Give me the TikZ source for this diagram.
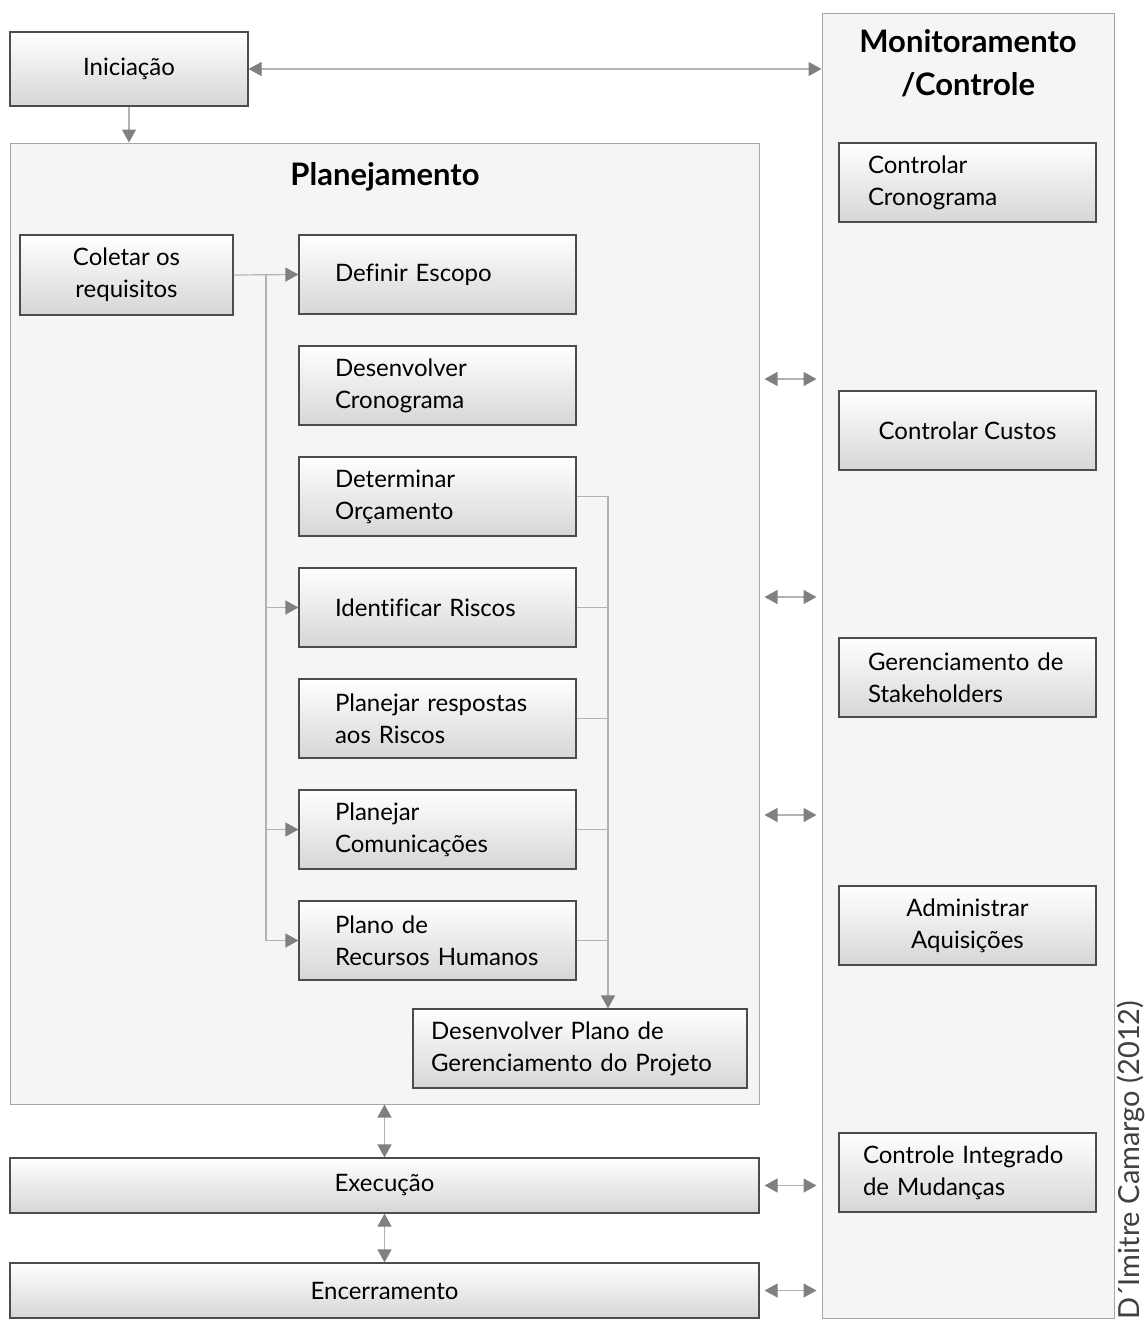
\documentclass[tikz,border=0pt]{standalone}
\usepackage{fontspec}
\setmainfont{Lato}[Ligatures=NoCommon]
\usetikzlibrary{positioning,arrows.meta,calc}

\begin{document}
\begin{tikzpicture}[x=1pt,y=-1pt,font=\fontsize{24}{32}\selectfont,
  box/.style={draw=cedge,line width=1.2pt,top color=white,bottom color=gray!32,
    minimum height=79,inner sep=0},
  stepbox/.style={box,minimum width=277,text width=205,inner xsep=36,align=left},
  ctrlbox/.style={box,minimum width=257,text width=199,inner xsep=29,align=left},
  ctrlmid/.style={box,minimum width=257,align=center},
  phase/.style={box,minimum width=749,minimum height=55},
  frame/.style={draw=cframe,line width=1pt,fill=gray!8,inner sep=0},
  title/.style={font=\fontsize{31}{43}\selectfont\bfseries,align=center},
  conn/.style={draw=cline,line width=1.2pt},
  tip/.style={-{Triangle[length=13pt,width=14pt,color=chead]}},
  both/.style={{Triangle[length=13pt,width=14pt,color=chead]}-{Triangle[length=13pt,width=14pt,color=chead]}}]
\colorlet{cedge}{black!70}\colorlet{cframe}{black!35}
\colorlet{cline}{black!30}\colorlet{chead}{black!50}
\useasboundingbox[fill=white] (0,0) rectangle (1145,1322);
% frames
\node[frame,minimum width=292,minimum height=1304] (mon) at (968,666) {};
\node[title] (montit) at (968,63) {Monitoramento\\/Controle};
\node[frame,minimum width=749,minimum height=961] (plan) at (384.5,623.5) {};
\node[title] (plantit) at (385,177) {Planejamento};
% phases
\node[box,minimum width=238,minimum height=74] (ini) at (129,69) {Iniciação};
\node[phase] (exe) at (384.5,1185.5) {Execução};
\node[phase] (enc) at (384.5,1290.5) {Encerramento};
% planning steps
\node[box,minimum width=213,minimum height=80,align=center] (col) at (126.5,275)
  {Coletar os\\requisitos};
\node[stepbox] (escopo) at (437.5,274.5) {Definir Escopo};
\node[stepbox] (crono) at (437.5,385.5) {Desenvolver\\Cronograma};
\node[stepbox] (orc) at (437.5,496.5) {Determinar\\Orçamento};
\node[stepbox] (riscos) at (437.5,607.5) {Identificar Riscos};
\node[stepbox] (resp) at (437.5,718.5) {Planejar respostas\\aos Riscos};
\node[stepbox] (comun) at (437.5,829.5) {Planejar\\Comunicações};
\node[stepbox] (rh) at (437.5,940.5) {Plano de\\Recursos Humanos};
\node[box,minimum width=334,text width=298,inner xsep=18,align=left] (plano)
  at (580,1048.5) {Desenvolver Plano de\\Gerenciamento do Projeto};
% control steps
\node[ctrlbox] (ccrono) at (967.5,182.5) {Controlar\\Cronograma};
\node[ctrlmid] (ccusto) at (967.5,430.5) {Controlar Custos};
\node[ctrlbox] (stake) at (967.5,677.5) {Gerenciamento de\\Stakeholders};
\node[ctrlmid] (aquis) at (967.5,925.5) {Administrar\\Aquisições};
\node[ctrlbox,text width=209,inner xsep=24] (mudan) at (967.5,1172.5)
  {Controle Integrado\\de Mudanças};
% credit
\node[rotate=90,anchor=base west,inner sep=0,text=black!75,
  font=\fontsize{29}{32}\selectfont] (cred) at (1139,1320) {D´Imitre Camargo (2012)};
% connectors
\coordinate (jn) at ($(col.east)!0.5!(escopo.west)$);
\coordinate (bus) at (608,496.5);
\draw[conn,tip] (col.east) -- (escopo.west);
\draw[conn,tip] (jn) |- (riscos.west);
\draw[conn,tip] (jn) |- (comun.west);
\draw[conn,tip] (jn) |- (rh.west);
\draw[conn,tip] (orc.east) -| (bus |- plano.north);
\draw[conn] (riscos.east) -- (riscos.east -| bus);
\draw[conn] (resp.east) -- (resp.east -| bus);
\draw[conn] (comun.east) -- (comun.east -| bus);
\draw[conn] (rh.east) -- (rh.east -| bus);
\draw[conn,tip] (ini.south) -- (ini.south |- plan.north);
\draw[conn,both] (ini.east) -- (ini.east -| mon.west);
\draw[conn,both] (plan.south) -- (exe.north);
\draw[conn,both] (exe.south) -- (enc.north);
\draw[conn,both,shorten <=5pt,shorten >=5pt] (exe.east) -- (exe.east -| mon.west);
\draw[conn,both,shorten <=5pt,shorten >=5pt] (enc.east) -- (enc.east -| mon.west);
\foreach \yy in {379,597,815}
  \draw[conn,both,shorten <=5pt,shorten >=5pt] (plan.east |- 0,\yy) -- (mon.west |- 0,\yy);
\end{tikzpicture}
\end{document}
